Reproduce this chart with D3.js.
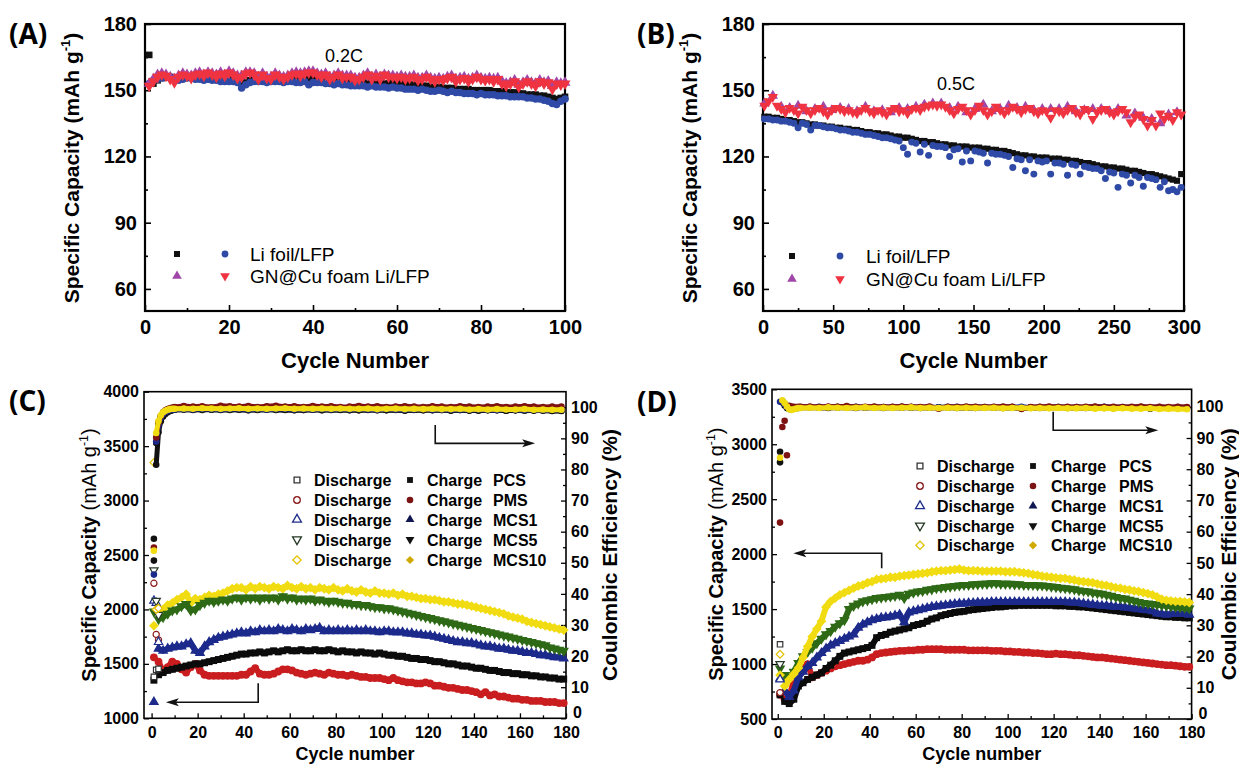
<!DOCTYPE html>
<html>
<head>
<meta charset="utf-8">
<script src="https://cdn.jsdelivr.net/npm/d3@7"></script>
<style>
body { margin: 0; background: #fff; }
svg { display: block; font-family: "Liberation Sans", Arial, sans-serif; }
.lab { font-family: "Open Sans", "Liberation Sans", sans-serif; font-weight: bold; }
</style>
</head>
<body>
<svg id="fig" width="1239" height="765"></svg>
<script>
// ---------- panel A : 0.2C, cycles 1..100 ----------
var aCycles = d3.range(1, 101);
var aLiCharge = [166, 153, 154.5, 155.5, 156, 156, 155.5, 155.5, 156, 156,
  156, 156, 155.5, 155.5, 155.5, 155.5, 155, 155, 155, 155,
  155, 154.5, 153, 153.5, 154.5, 155, 155, 155, 154.5, 155,
  155, 155, 154.5, 155, 155, 155, 155.5, 155.5, 155.5, 155.5,
  155.5, 155.5, 155, 155, 154.5, 154.5, 154, 154, 153.5, 153.5,
  153.5, 153.5, 153, 153, 153, 153, 153, 153, 153.5, 153.5,
  153, 153, 152.5, 152.5, 152, 152, 152, 151.5, 151, 151.5,
  151, 151, 151, 150.5, 150.5, 150.5, 150.5, 150, 150, 150,
  150, 150, 149.5, 149.5, 149.5, 149, 149, 149, 148.5, 148.5,
  148, 148, 148, 147.5, 147.5, 147, 146.5, 146, 146.5, 147];
var aLiDischarge = [153, 154.5, 155, 155.5, 156, 155.5, 155, 154.5, 155, 155.5,
  155.5, 155, 155, 154.5, 155, 154.5, 154.5, 154, 154, 154,
  154, 153.5, 151, 152.5, 153.5, 154, 154, 154, 153.5, 154,
  154, 154, 153.5, 154, 154, 153.5, 153.5, 154, 152.5, 153.5,
  153.5, 153.5, 153, 153, 152.5, 153, 152.5, 152.5, 152, 152,
  152, 152, 151.5, 152, 151.5, 151.5, 151.5, 151, 151.5, 151,
  151, 150.5, 150.5, 150.5, 150, 150.5, 150, 149.5, 149.5, 150,
  149.5, 149, 149.5, 149, 149, 148.5, 148.5, 148.5, 148, 148.5,
  148, 148, 148, 147.5, 147.5, 147.5, 147, 147, 147, 147,
  146.5, 146.5, 146, 146, 145.5, 145, 144, 143.5, 145, 146];
var aGnCharge = [153, 155, 157, 157.5, 157, 156, 155, 156.5, 157.5, 157,
  156.5, 157.5, 158, 157, 158, 157.5, 157, 158, 157, 158.5,
  157.5, 156.5, 156.5, 158, 158, 157.5, 156, 157.5, 156, 156,
  157.5, 156.5, 156, 156.5, 157.5, 158, 157.5, 158, 158.5, 158.5,
  157.5, 157, 157.5, 156, 156.5, 157.5, 156.5, 156.5, 156.5, 155.5,
  155.5, 156.5, 157.5, 156, 157, 156, 157, 156.5, 156.5, 156,
  156.5, 156, 156, 156.5, 155.5, 155.5, 156.5, 155.5, 155, 155.5,
  155, 156, 156.5, 155, 155.5, 156, 155, 155.5, 156.5, 155.5,
  155, 155.5, 155, 155.5, 154, 153, 153.5, 154.5, 152.5, 153.5,
  154.5, 153.5, 153, 154.5, 153.5, 154, 152, 153.5, 153, 153.5];
var aGnDischarge = [152, 154, 156, 157, 156.5, 155, 153.5, 156, 157, 156.5,
  155.5, 157, 157.5, 156.5, 158, 157, 156, 157.5, 156.5, 158,
  157, 155.5, 156, 157.5, 158, 157, 155, 157, 155.5, 155,
  157, 156, 155, 156, 157, 157.5, 156.5, 157.5, 158, 158,
  157, 156, 157, 155, 156, 157, 155.5, 156, 156, 154.5,
  155, 156, 157, 155, 156.5, 155, 157, 156, 156, 155.5,
  156, 155, 155.5, 156, 154.5, 155, 156, 155, 154, 155,
  154.5, 155.5, 156, 154, 155, 155.5, 154, 155, 156, 155,
  154.5, 155, 154, 155, 153, 152, 153, 154, 151.5, 153,
  154, 153, 152, 154, 153, 153.5, 150.5, 153, 152.5, 153];

// ---------- panel B : 0.5C, every 3rd cycle ----------
var bCycles = d3.range(1, 300, 3);
var bCyclesGnCh = d3.range(1, 300, 6);
var bLiCharge = [138, 138, 137.5, 137.5, 137, 136.5, 136.5, 136, 135.5, 135.5,
  135, 134.5, 134.5, 134, 134, 133.5, 133.5, 133, 133, 132.5,
  132.5, 132, 132, 131.5, 131, 131, 130.5, 130.5, 130, 130,
  129.5, 129, 129, 128.5, 128.5, 128, 127.5, 127, 127, 126.5,
  126.5, 126, 125.5, 125.5, 125, 125, 124.5, 124.5, 124.5, 124,
  124, 124, 123.5, 123.5, 123, 123, 122.5, 122.5, 122, 121.5,
  121, 120.5, 120.5, 120, 120, 119.5, 119.5, 119.5, 119, 119,
  119, 118.5, 118.5, 118, 118, 117.5, 117, 117, 116.5, 116,
  115.5, 115.5, 115, 115, 114.5, 114.5, 114, 113.5, 113.5, 113,
  112.5, 112, 112, 111.5, 111, 110.5, 110, 109.5, 109, 112];
var bLiDischarge = [137, 137, 136.5, 136.5, 136, 136, 135.5, 135, 133, 135,
  134.5, 132, 134, 134, 133.5, 133, 133, 132.5, 132, 132,
  131.5, 131, 131, 130.5, 130, 130, 129.5, 129, 128.5, 128.5,
  128, 127.5, 127, 124, 121, 126.5, 126, 122, 125.5, 120.5,
  125, 124.5, 124.5, 124, 120, 123, 123.5, 117.5, 122.5, 118,
  122.5, 122, 121.5, 117, 121.5, 121, 121, 120.5, 120, 115,
  119, 118.5, 113.5, 118.5, 112, 118, 117.5, 118, 112, 117,
  117, 116.5, 111.5, 116.5, 116, 112, 115.5, 115, 114.5, 114.5,
  113.5, 110, 113, 112.5, 106, 112, 111.5, 108, 111.5, 110.5,
  106.5, 110.5, 110, 109.5, 106, 108.5, 104.5, 105, 104, 106];
var bGnCharge = [144, 147.5, 142.5, 142, 143, 140.5, 141.5, 142.5, 141, 142,
  141.5, 140.5, 142.5, 140.5, 141, 140, 142, 141.5, 142.5, 143.5,
  144, 144, 142, 142.5, 140, 141.5, 143.5, 140.5, 141.5, 143,
  142, 142.5, 141, 141.5, 141.5, 141.5, 142.5, 140.5, 141, 141.5,
  141.5, 140.5, 141.5, 138.5, 139.5, 137.5, 137, 135, 139, 140];
var bGnDischarge = [143, 145, 147, 143, 141.5, 140, 142, 141, 139.5, 142.5,
  141, 139.5, 141, 142, 140.5, 139, 141, 142, 141.5, 140.5,
  141, 140, 139.5, 141, 142, 140.5, 139.5, 141, 140, 139,
  141, 142, 140.5, 141, 139.5, 141.5, 142, 141, 142.5, 143,
  143.5, 143, 143.5, 142.5, 141, 139.5, 141.5, 142.5, 141, 139,
  141, 143, 141, 139, 140.5, 142.5, 141, 139.5, 141, 142.5,
  141.5, 140, 141.5, 142, 140.5, 139.5, 141, 140.5, 137.5, 141,
  140.5, 139.5, 141, 142, 140, 139, 141.5, 141, 137, 140,
  141, 141.5, 140, 139, 140.5, 141.5, 140, 135.5, 138, 139,
  137, 134, 136.5, 134, 139.5, 137, 138.5, 136.5, 140, 139];

// ---------- panels C and D ----------
var materials = ["PCS", "PMS", "MCS1", "MCS5", "MCS10"];
var capCycles = d3.range(1, 180, 2);
var ceCycles = [1, 2, 3, 4, 5, 6, 7, 8, 9].concat(d3.range(10, 181, 4));

// panel C charge capacity (mAh/g)
var cPCS = [1350, 1400, 1420, 1440, 1450, 1460, 1470, 1480, 1490, 1500,
  1500, 1510, 1520, 1530, 1540, 1550, 1560, 1570, 1580, 1590,
  1590, 1600, 1600, 1610, 1600, 1610, 1620, 1610, 1620, 1630,
  1620, 1620, 1630, 1620, 1620, 1630, 1620, 1620, 1630, 1620,
  1610, 1620, 1610, 1610, 1600, 1610, 1600, 1600, 1590, 1600,
  1590, 1580, 1580, 1570, 1570, 1560, 1550, 1550, 1540, 1540,
  1530, 1520, 1520, 1510, 1500, 1500, 1490, 1480, 1480, 1470,
  1460, 1460, 1450, 1440, 1440, 1430, 1420, 1420, 1410, 1410,
  1400, 1400, 1390, 1390, 1380, 1380, 1370, 1370, 1360, 1360];
var cPMS = [1560, 1520, 1430, 1470, 1520, 1500, 1450, 1420, 1470, 1500,
  1440, 1400, 1390, 1390, 1390, 1390, 1390, 1390, 1390, 1400,
  1400, 1430, 1460, 1410, 1400, 1400, 1410, 1430, 1450, 1450,
  1440, 1420, 1410, 1400, 1410, 1420, 1410, 1400, 1420, 1410,
  1400, 1400, 1390, 1400, 1390, 1380, 1380, 1370, 1370, 1370,
  1360, 1350, 1370, 1350, 1340, 1330, 1330, 1320, 1320, 1330,
  1320, 1300, 1300, 1290, 1280, 1280, 1270, 1260, 1260, 1250,
  1240, 1220, 1240, 1210, 1220, 1200, 1200, 1190, 1180, 1180,
  1170, 1170, 1160, 1160, 1160, 1150, 1150, 1150, 1140, 1140];
var cMCS1 = [1150, 1640, 1620, 1640, 1650, 1660, 1660, 1680, 1690, 1620,
  1600, 1660, 1700, 1720, 1740, 1750, 1760, 1770, 1780, 1790,
  1780, 1800, 1790, 1810, 1800, 1810, 1800, 1820, 1810, 1800,
  1820, 1810, 1800, 1820, 1810, 1820, 1830, 1800, 1810, 1800,
  1810, 1800, 1810, 1800, 1810, 1800, 1810, 1800, 1800, 1790,
  1800, 1800, 1790, 1790, 1790, 1780, 1780, 1770, 1770, 1760,
  1760, 1750, 1740, 1730, 1720, 1710, 1700, 1700, 1690, 1690,
  1680, 1670, 1660, 1660, 1650, 1640, 1640, 1630, 1620, 1620,
  1610, 1600, 1600, 1590, 1580, 1580, 1570, 1560, 1560, 1550];
var cMCS5 = [1980, 1910, 1930, 1960, 1990, 2000, 2030, 2050, 1990, 2000,
  2040, 2060, 2080, 2070, 2080, 2090, 2080, 2100, 2110, 2090,
  2110, 2100, 2110, 2090, 2110, 2100, 2110, 2090, 2120, 2100,
  2110, 2090, 2100, 2090, 2100, 2080, 2090, 2080, 2070, 2080,
  2070, 2060, 2060, 2050, 2050, 2040, 2040, 2030, 2020, 2020,
  2010, 2010, 2000, 1990, 1980, 1970, 1960, 1950, 1940, 1930,
  1920, 1910, 1900, 1890, 1880, 1870, 1860, 1850, 1840, 1830,
  1820, 1810, 1800, 1790, 1780, 1770, 1760, 1750, 1740, 1730,
  1720, 1710, 1700, 1690, 1680, 1670, 1650, 1640, 1630, 1620];
var cMCS10 = [1850, 1990, 2000, 2040, 2060, 2090, 2110, 2140, 2060, 2100,
  2090, 2110, 2130, 2120, 2140, 2150, 2170, 2190, 2200, 2200,
  2180, 2210, 2190, 2210, 2200, 2190, 2210, 2200, 2190, 2220,
  2200, 2190, 2210, 2190, 2200, 2180, 2200, 2190, 2180, 2200,
  2180, 2170, 2190, 2170, 2160, 2180, 2160, 2150, 2170, 2150,
  2150, 2140, 2150, 2130, 2140, 2120, 2120, 2110, 2100, 2100,
  2090, 2090, 2080, 2070, 2070, 2060, 2050, 2050, 2040, 2030,
  2020, 2010, 2000, 1990, 1980, 1970, 1960, 1940, 1930, 1920,
  1910, 1890, 1880, 1870, 1860, 1850, 1840, 1830, 1820, 1810];
// panel C first-cycle discharge capacity
var cDisCycles = [1, 2, 3];
var cDisPCS = [1380, 1445, 1455];
var cDisPMS = [2240, 1770, 1720];
var cDisMCS1 = [2080, 2060, 1700];
var cDisMCS5 = [2360, 2080, 1950];
var cDisMCS10 = [3350, 2000, 2010];
// panel C coulombic efficiency (%)
var cCePCS = [57.7, 81.5, 92.0, 95.5, 97.0, 97.8, 98.4, 98.8, 99.0,
  99.2, 99.3, 99.1, 99.4, 99.2, 99.1, 99.3, 99.2, 99.0, 99.2,
  99.3, 99.1, 99.2, 99.0, 99.1, 99.3, 99.2, 99.1, 99.2, 99.0,
  99.1, 99.2, 99.0, 99.1, 99.2, 98.9, 99.1, 99.0, 99.2, 99.1,
  99.0, 99.1, 98.9, 99.1, 99.0, 99.1, 98.9, 99.0, 99.1, 98.9,
  99.0, 98.9, 98.8];
var cCePMS = [54.9, 90.3, 95.2, 97.2, 98.4, 99.0, 99.4, 99.7, 99.9,
  100.1, 100.4, 100.2, 100.3, 100.0, 100.5, 100.3, 100.2, 100.4, 100.1,
  100.3, 100.5, 100.2, 100.3, 100.1, 100.4, 100.2, 100.3, 100.1, 100.2,
  100.4, 100.2, 100.3, 100.1, 100.2, 100.3, 100.2, 100.1, 100.3, 100.2,
  100.1, 100.3, 100.2, 100.1, 100.2, 100.3, 100.1, 100.2, 100.3, 100.2,
  100.1, 100.2, 100.2];
var cCeMCS1 = [46.2, 89.0, 94.2, 96.6, 97.8, 98.5, 98.9, 99.1, 99.2,
  99.3, 99.4, 99.3, 99.5, 99.4, 99.3, 99.4, 99.5, 99.3, 99.4,
  99.3, 99.4, 99.5, 99.3, 99.4, 99.3, 99.4, 99.3, 99.4, 99.3,
  99.4, 99.3, 99.2, 99.4, 99.3, 99.2, 99.3, 99.4, 99.2, 99.3,
  99.2, 99.3, 99.2, 99.3, 99.2, 99.1, 99.3, 99.2, 99.1, 99.2,
  99.1, 99.2, 99.1];
var cCeMCS5 = [50.7, 88.5, 94.5, 96.8, 98.0, 98.6, 98.9, 99.1, 99.2,
  99.2, 99.3, 99.2, 99.1, 99.3, 99.2, 99.1, 99.3, 99.2, 99.1,
  99.2, 99.3, 99.1, 99.2, 99.1, 99.2, 99.0, 99.2, 99.1, 99.2,
  99.0, 99.1, 99.2, 99.0, 99.1, 99.0, 99.2, 99.1, 99.0, 99.1,
  98.9, 99.1, 99.0, 98.9, 99.1, 99.0, 98.9, 99.0, 98.9, 99.0,
  98.9, 98.8, 98.9];
var cCeMCS10 = [53.9, 91.7, 95.6, 97.4, 98.4, 98.9, 99.2, 99.4, 99.5,
  99.5, 99.6, 99.5, 99.7, 99.6, 99.5, 99.6, 99.7, 99.5, 99.6,
  99.5, 99.6, 99.7, 99.5, 99.6, 99.5, 99.6, 99.5, 99.6, 99.5,
  99.5, 99.6, 99.4, 99.5, 99.6, 99.4, 99.5, 99.4, 99.5, 99.4,
  99.4, 99.5, 99.3, 99.4, 99.3, 99.4, 99.3, 99.3, 99.4, 99.2,
  99.3, 99.2, 99.2];

// panel D charge capacity (mAh/g)
var dPCS = [720, 660, 640, 680, 800, 830, 860, 880, 900, 920,
  960, 990, 1030, 1070, 1100, 1110, 1120, 1130, 1140, 1150,
  1170, 1240, 1260, 1270, 1290, 1300, 1310, 1320, 1330, 1350,
  1360, 1370, 1390, 1410, 1420, 1440, 1450, 1460, 1470, 1475,
  1480, 1490, 1495, 1500, 1505, 1510, 1515, 1520, 1520, 1525,
  1530, 1530, 1535, 1535, 1535, 1535, 1535, 1535, 1535, 1535,
  1530, 1530, 1530, 1525, 1525, 1520, 1520, 1515, 1510, 1505,
  1500, 1495, 1490, 1485, 1480, 1475, 1470, 1465, 1460, 1455,
  1450, 1445, 1440, 1435, 1430, 1430, 1425, 1425, 1420, 1420];
var dPMS = [720, 680, 700, 850, 920, 960, 1000, 880, 900, 920,
  940, 960, 980, 990, 1000, 1010, 1020, 1030, 1030, 1040,
  1060, 1090, 1100, 1105, 1110, 1115, 1120, 1120, 1125, 1125,
  1130, 1130, 1135, 1135, 1135, 1135, 1130, 1130, 1130, 1130,
  1130, 1125, 1125, 1125, 1125, 1125, 1120, 1120, 1120, 1115,
  1115, 1110, 1110, 1105, 1105, 1100, 1100, 1095, 1090, 1090,
  1095, 1090, 1090, 1085, 1080, 1080, 1075, 1070, 1065, 1060,
  1060, 1055, 1050, 1045, 1040, 1035, 1030, 1025, 1020, 1015,
  1010, 1005, 1000, 995, 990, 990, 985, 980, 975, 975];
var dMCS1 = [870, 760, 700, 760, 880, 930, 980, 1010, 1060, 1100,
  1140, 1170, 1190, 1210, 1230, 1250, 1270, 1330, 1360, 1380,
  1400, 1410, 1420, 1425, 1430, 1440, 1450, 1380, 1470, 1480,
  1490, 1500, 1510, 1520, 1525, 1530, 1535, 1540, 1545, 1550,
  1550, 1555, 1555, 1560, 1560, 1560, 1565, 1565, 1565, 1565,
  1565, 1565, 1565, 1565, 1565, 1565, 1565, 1565, 1565, 1565,
  1565, 1565, 1565, 1560, 1560, 1555, 1550, 1545, 1540, 1535,
  1530, 1530, 1525, 1520, 1520, 1515, 1510, 1505, 1500, 1495,
  1490, 1480, 1460, 1455, 1450, 1455, 1460, 1455, 1455, 1450];
var dMCS5 = [960, 900, 880, 930, 1010, 1070, 1110, 1150, 1190, 1230,
  1270, 1300, 1340, 1370, 1400, 1500, 1530, 1550, 1570, 1580,
  1590, 1600, 1605, 1610, 1615, 1620, 1630, 1600, 1640, 1650,
  1660, 1665, 1675, 1680, 1690, 1695, 1700, 1705, 1710, 1715,
  1720, 1720, 1725, 1725, 1730, 1730, 1735, 1735, 1730, 1730,
  1730, 1725, 1725, 1720, 1720, 1720, 1715, 1715, 1710, 1705,
  1700, 1695, 1690, 1685, 1680, 1670, 1665, 1660, 1650, 1645,
  1640, 1630, 1620, 1610, 1600, 1595, 1585, 1575, 1565, 1555,
  1550, 1545, 1540, 1535, 1530, 1525, 1520, 1515, 1510, 1505];
var dMCS10 = [900, 800, 860, 910, 965, 1060, 1160, 1250, 1320, 1390,
  1520, 1570, 1600, 1630, 1650, 1670, 1690, 1710, 1720, 1740,
  1750, 1770, 1775, 1780, 1790, 1790, 1800, 1805, 1810, 1815,
  1820, 1825, 1830, 1840, 1845, 1850, 1850, 1855, 1860, 1865,
  1855, 1850, 1850, 1850, 1845, 1845, 1845, 1845, 1845, 1840,
  1840, 1840, 1835, 1830, 1825, 1815, 1810, 1800, 1795, 1790,
  1785, 1780, 1780, 1770, 1765, 1755, 1750, 1745, 1740, 1730,
  1720, 1715, 1705, 1695, 1690, 1680, 1675, 1665, 1660, 1650,
  1640, 1630, 1610, 1590, 1580, 1575, 1570, 1570, 1565, 1560];
// panel D first-cycle discharge capacity
var dDisCycles = [1];
var dDisPCS = [1180];
var dDisPMS = [740];
var dDisMCS1 = [860];
var dDisMCS5 = [1000];
var dDisMCS10 = [1090];
// panel D coulombic efficiency (%)
var dCePCS = [85.6, 101.4, 100.4, 99.6, 99.4, 99.5, 99.6, 99.7, 99.8,
  99.8, 99.9, 99.7, 99.8, 100.0, 99.8, 99.9, 99.7, 99.8, 99.9,
  99.8, 99.7, 99.9, 99.8, 99.7, 99.8, 99.9, 99.8, 99.7, 99.8,
  99.9, 99.7, 99.8, 99.9, 99.6, 99.8, 99.7, 99.8, 99.9, 99.7,
  99.8, 99.7, 99.8, 99.9, 99.7, 99.8, 99.7, 99.8, 99.4, 99.7,
  99.8, 99.7, 99.6];
var dCePMS = [62.9, 93.5, 95.5, 84.5, 100.3, 100.1, 100.0, 99.9, 100.0,
  100.0, 100.1, 99.9, 100.1, 100.0, 100.2, 99.9, 100.0, 100.1, 99.9,
  100.0, 100.1, 100.0, 99.9, 100.1, 99.4, 100.0, 99.9, 100.1, 100.0,
  99.9, 100.0, 100.1, 100.0, 99.3, 99.9, 100.0, 100.1, 99.9, 100.0,
  99.9, 100.0, 100.1, 99.9, 100.0, 99.9, 100.0, 100.1, 99.9, 100.0,
  99.9, 100.0, 99.9];
var dCeMCS1 = [101.6, 101.8, 100.8, 99.9, 99.3, 99.3, 99.5, 99.6, 99.7,
  99.9, 99.8, 100.0, 99.9, 99.8, 99.9, 100.0, 99.8, 99.9, 99.8,
  99.9, 100.0, 99.9, 99.8, 99.9, 99.8, 99.9, 100.0, 99.8, 99.9,
  99.8, 99.9, 99.8, 99.9, 100.0, 99.8, 99.9, 99.8, 99.9, 99.8,
  99.9, 99.8, 99.9, 100.0, 99.8, 99.9, 99.8, 99.9, 99.8, 99.9,
  99.7, 99.9, 99.8];
var dCeMCS5 = [82.2, 101.7, 100.9, 100.0, 99.3, 99.2, 99.4, 99.5, 99.6,
  99.7, 99.8, 99.7, 99.6, 99.8, 99.7, 99.6, 99.8, 99.7, 99.6,
  99.7, 99.8, 99.7, 99.6, 99.7, 99.8, 99.7, 99.6, 99.7, 99.6,
  99.7, 99.8, 99.6, 99.7, 99.6, 99.7, 99.6, 99.7, 99.8, 99.6,
  99.7, 99.6, 99.7, 99.6, 99.5, 99.7, 99.6, 99.7, 99.6, 99.5,
  99.6, 99.6, 99.5];
var dCeMCS10 = [83.7, 102.1, 101.2, 100.1, 99.2, 99.0, 99.2, 99.4, 99.6,
  99.6, 99.7, 99.6, 99.8, 99.7, 99.6, 99.7, 99.8, 99.6, 99.7,
  99.6, 99.7, 99.8, 99.6, 99.7, 99.6, 99.7, 99.6, 99.7, 99.6,
  99.6, 99.7, 99.5, 99.6, 99.7, 99.5, 99.6, 99.5, 99.6, 99.5,
  99.5, 99.6, 99.4, 99.5, 99.4, 99.5, 99.4, 99.4, 99.5, 99.3,
  99.4, 99.3, 99.2];

// ---------- drawing helpers ----------
var svg = d3.select("#fig");

var shapes = {
  square: { t: d3.symbolSquare, r: 0 },
  circle: { t: d3.symbolCircle, r: 0 },
  up: { t: d3.symbolTriangle, r: 0 },
  down: { t: d3.symbolTriangle, r: 180 },
  diamond: { t: d3.symbolSquare, r: 45 }
};

function points(g, xs, ys, x, y, shape, size, fill, stroke, sw) {
  var s = shapes[shape];
  g.append("g").selectAll("path")
    .data(d3.zip(xs, ys))
    .join("path")
    .attr("d", d3.symbol().type(s.t).size(size))
    .attr("transform", function (d) { return "translate(" + x(d[0]) + "," + y(d[1]) + ") rotate(" + s.r + ")"; })
    .attr("fill", fill)
    .attr("stroke", stroke || "none")
    .attr("stroke-width", sw || 0);
}

function band(g, xs, ys, x, y, color, w, from) {
  var pts = d3.zip(xs, ys).filter(function (d) { return d[0] >= from; });
  g.append("path").datum(pts)
    .attr("d", d3.line().x(function (d) { return x(d[0]); }).y(function (d) { return y(d[1]); }))
    .attr("fill", "none")
    .attr("stroke", color)
    .attr("stroke-width", w)
    .attr("stroke-linejoin", "round");
}

function marker(g, cx, cy, shape, size, fill, stroke, sw) {
  var s = shapes[shape];
  g.append("path")
    .attr("d", d3.symbol().type(s.t).size(size)())
    .attr("transform", "translate(" + cx + "," + cy + ") rotate(" + s.r + ")")
    .attr("fill", fill)
    .attr("stroke", stroke || "none")
    .attr("stroke-width", sw || 0);
}

// inward ticks, frame, labels
function axes(g, x, y, o) {
  var bottom = y.range()[0], top = y.range()[1];
  var left = x.range()[0], right = x.range()[1];
  var xb = g.append("g").attr("transform", "translate(0," + bottom + ")");
  xb.call(d3.axisBottom(x).tickValues(o.xMinor).tickSize(-o.minor).tickFormat(""));
  var xa = g.append("g").attr("transform", "translate(0," + bottom + ")");
  xa.call(d3.axisBottom(x).tickValues(o.xTicks).tickSize(-o.major).tickPadding(o.xPad).tickFormat(d3.format("d")));
  var yb = g.append("g").attr("transform", "translate(" + left + ",0)");
  yb.call(d3.axisLeft(y).tickValues(o.yMinor).tickSize(-o.minor).tickFormat(""));
  var ya = g.append("g").attr("transform", "translate(" + left + ",0)");
  ya.call(d3.axisLeft(y).tickValues(o.yTicks).tickSize(-o.major).tickPadding(o.yPad).tickFormat(d3.format("d")));
  var all = [xb, xa, yb, ya];
  if (o.y2) {
    var zb = g.append("g").attr("transform", "translate(" + right + ",0)");
    zb.call(d3.axisRight(o.y2).tickValues(o.y2Minor).tickSize(-o.minor).tickFormat(""));
    var za = g.append("g").attr("transform", "translate(" + right + ",0)");
    za.call(d3.axisRight(o.y2).tickValues(o.y2Ticks).tickSize(-o.major).tickPadding(o.yPad2).tickFormat(d3.format("d")));
    // lift the bottom "0" so it clears the x label below it
    za.selectAll("text").filter(function (d) { return d === 0; }).attr("dy", "-0.05em").attr("dx", "2");
    all.push(zb, za);
  }
  all.forEach(function (a) {
    a.select(".domain").remove();
    a.selectAll("line").attr("stroke", "#000").attr("stroke-width", o.tw);
    a.selectAll("text").attr("fill", "#000").attr("font-size", o.fs + "px")
      .attr("font-weight", "bold").attr("font-family", "'Liberation Sans', Arial, sans-serif");
  });
  g.append("rect").attr("x", left).attr("y", top)
    .attr("width", right - left).attr("height", bottom - top)
    .attr("fill", "none").attr("stroke", "#000").attr("stroke-width", o.fw);
}

function capTitle(g, bx, cy, fs, unitWeight) {
  var t = g.append("text")
    .attr("transform", "translate(" + bx + "," + cy + ") rotate(-90)")
    .attr("text-anchor", "middle").attr("font-size", fs + "px").attr("font-weight", "bold");
  t.append("tspan").text("Specific Capacity ");
  t.append("tspan").attr("font-weight", unitWeight).text("(mAh g");
  t.append("tspan").attr("font-weight", unitWeight).attr("font-size", (fs * 0.62) + "px").attr("dy", -fs * 0.42).text("-1");
  t.append("tspan").attr("font-weight", unitWeight).attr("dy", fs * 0.42).text(")");
}

function arrow(g, pts, color) {
  var head = pts[pts.length - 1], prev = pts[pts.length - 2];
  var dir = head[0] > prev[0] ? 1 : -1;
  g.append("path").datum(pts.slice(0, -1).concat([[head[0] - dir * 10, head[1]]]))
    .attr("d", d3.line())
    .attr("fill", "none").attr("stroke", color).attr("stroke-width", 1.6);
  g.append("path")
    .attr("d", "M" + head[0] + "," + head[1] + "L" + (head[0] - dir * 13) + "," + (head[1] - 4) +
      "L" + (head[0] - dir * 10) + "," + head[1] + "L" + (head[0] - dir * 13) + "," + (head[1] + 4) + "Z")
    .attr("fill", color);
}

// ---------- panels A and B ----------
function panelAB(p) {
  var g = svg.append("g");
  var x = d3.scaleLinear().domain(p.xDom).range(p.xRange);
  var y = d3.scaleLinear().domain([50, 180]).range([311, 24]);
  axes(g, x, y, {
    xTicks: p.xTicks, xMinor: p.xMinor,
    yTicks: [60, 90, 120, 150, 180], yMinor: [75, 105, 135, 165],
    major: 6, minor: 3, xPad: 9, yPad: 8, fs: 20, tw: 1.6, fw: 2.2
  });
  points(g, p.cycles, p.liCh, x, y, "square", p.ms, "#111");
  points(g, p.cycles, p.liDis, x, y, "circle", p.ms, "#2f4aa6");
  points(g, p.gnChCycles, p.gnCh, x, y, "up", p.ms + 8, "#a046a8");
  points(g, p.cycles, p.gnDis, x, y, "down", p.ms + 8, "#ef3340");

  g.append("text").attr("x", p.rateX).attr("y", p.rateY).attr("text-anchor", "middle")
    .attr("font-size", "18px").text(p.rate);

  var l = p.leg;
  marker(g, l.x1, l.y1, "square", 36, "#111");
  marker(g, l.x2, l.y1, "circle", 36, "#2f4aa6");
  marker(g, l.x1, l.y2, "up", 40, "#a046a8");
  marker(g, l.x2, l.y2, "down", 40, "#ef3340");
  g.append("text").attr("x", l.tx).attr("y", l.y1 + 7).attr("font-size", "19px").text("Li foil/LFP");
  g.append("text").attr("x", l.tx).attr("y", l.y2 + 7).attr("font-size", "19px").text("GN@Cu foam Li/LFP");

  capTitle(g, p.yTitleX, 168, 21, "bold");
  g.append("text").attr("x", (p.xRange[0] + p.xRange[1]) / 2).attr("y", 368)
    .attr("text-anchor", "middle").attr("font-size", "22px").attr("font-weight", "bold").text("Cycle Number");
  g.append("text").attr("class", "lab").attr("x", p.labX).attr("y", 44)
    .attr("font-size", "28px").text(p.label);
}

panelAB({
  label: "(A)", labX: 9, xDom: [0, 100], xRange: [145, 565],
  xTicks: [0, 20, 40, 60, 80, 100], xMinor: [10, 30, 50, 70, 90],
  cycles: aCycles, gnChCycles: aCycles,
  liCh: aLiCharge, liDis: aLiDischarge, gnCh: aGnCharge, gnDis: aGnDischarge,
  ms: 44, rate: "0.2C", rateX: 344, rateY: 62,
  leg: { x1: 177, x2: 225, y1: 254, y2: 276, tx: 250 },
  yTitleX: 79
});

panelAB({
  label: "(B)", labX: 637, xDom: [0, 300], xRange: [763, 1184],
  xTicks: [0, 50, 100, 150, 200, 250, 300], xMinor: [25, 75, 125, 175, 225, 275],
  cycles: bCycles, gnChCycles: bCyclesGnCh,
  liCh: bLiCharge, liDis: bLiDischarge, gnCh: bGnCharge, gnDis: bGnDischarge,
  ms: 38, rate: "0.5C", rateX: 956, rateY: 90,
  leg: { x1: 792, x2: 840, y1: 256, y2: 279, tx: 866 },
  yTitleX: 697
});

// ---------- panels C and D ----------
var capColor = ["#0b0b0b", "#c91d1f", "#1c2a8c", "#2e6a16", "#f1dc12"];
var ceColor = ["#111111", "#7e1212", "#1c2a8c", "#111111", "#f1dc12"];
var openShape = ["square", "circle", "up", "down", "diamond"];
var openColor = ["#333333", "#8b1c1c", "#1f2d8a", "#263826", "#e2c000"];
var fillShape = ["square", "circle", "up", "down", "diamond"];
var fillColor = ["#111111", "#7a1414", "#0f1650", "#111111", "#d0aa00"];

function panelCD(p) {
  var g = svg.append("g");
  var x = d3.scaleLinear().domain(p.xDom).range(p.xRange);
  var y = d3.scaleLinear().domain(p.yDom).range([p.bottom, p.top]);
  var y2 = d3.scaleLinear().domain(p.y2Dom).range([p.bottom, p.top]);
  axes(g, x, y, {
    xTicks: d3.range(0, 181, 20), xMinor: d3.range(10, 180, 20),
    yTicks: p.yTicks, yMinor: p.yMinor,
    y2: y2, y2Ticks: d3.range(0, 101, 10), y2Minor: d3.range(5, 105, 10),
    major: 5, minor: 3, xPad: 8, yPad: 5, yPad2: 5, fs: 16, tw: 1.3, fw: 1.6
  });

  // capacity bands (charge)
  p.order.forEach(function (i) {
    band(g, capCycles, p.cap[i], x, y, capColor[i], 6, 3);
    points(g, capCycles, p.cap[i], x, y, fillShape[i], 48, capColor[i]);
  });
  // discharge at first cycles
  p.dis.forEach(function (d, i) {
    points(g, p.disCycles, d, x, y, openShape[i], 30, "#fff", openColor[i], 1.2);
  });
  // coulombic efficiency
  [0, 3, 2, 1, 4].forEach(function (i) {
    band(g, ceCycles, p.ce[i], x, y2, ceColor[i], 5, p.ceFrom);
    points(g, ceCycles, p.ce[i], x, y2, "circle", 34, ceColor[i]);
  });

  // legend
  var L = p.leg;
  materials.forEach(function (m, i) {
    var ry = L.y[i];
    marker(g, L.xo, ry, openShape[i], 34, "#fff", openColor[i], 1.3);
    marker(g, L.xf, ry, fillShape[i], 34, fillColor[i]);
    g.append("text").attr("x", L.xd).attr("y", ry + 6).attr("font-size", "16px").attr("font-weight", "bold").text("Discharge");
    g.append("text").attr("x", L.xc).attr("y", ry + 6).attr("font-size", "16px").attr("font-weight", "bold").text("Charge");
    g.append("text").attr("x", L.xn).attr("y", ry + 6).attr("font-size", "16px").attr("font-weight", "bold").text(m);
  });

  // arrows
  var r = p.arrR, a = p.arrL;
  arrow(g, [[x(r[0]), y2(r[1])], [x(r[0]), y2(r[2])], [x(r[3]), y2(r[2])]], "#111");
  arrow(g, [[x(a[0]), y(a[1])], [x(a[0]), y(a[2])], [x(a[3]), y(a[2])]], "#111");

  capTitle(g, p.yTitleX, (p.top + p.bottom) / 2, 20, "normal");
  g.append("text")
    .attr("transform", "translate(" + p.y2TitleX + "," + ((p.top + p.bottom) / 2) + ") rotate(-90)")
    .attr("text-anchor", "middle").attr("font-size", "21px").attr("font-weight", "bold")
    .text("Coulombic Efficiency (%)");
  g.append("text").attr("x", (p.xRange[0] + p.xRange[1]) / 2).attr("y", 760)
    .attr("text-anchor", "middle").attr("font-size", "18px").attr("font-weight", "bold").text("Cycle number");
  g.append("text").attr("class", "lab").attr("x", p.labX).attr("y", p.labY)
    .attr("font-size", "28px").text(p.label);
}

panelCD({
  label: "(C)", labX: 9, labY: 411,
  xDom: [-3.3, 180], xRange: [144, 566], top: 391.7, bottom: 718.3,
  yDom: [1000, 4000], yTicks: d3.range(1000, 4001, 500), yMinor: d3.range(1250, 4000, 500),
  y2Dom: [0, 105],
  cap: [cPCS, cPMS, cMCS1, cMCS5, cMCS10], order: [1, 0, 2, 4, 3],
  disCycles: cDisCycles, dis: [cDisPCS, cDisPMS, cDisMCS1, cDisMCS5, cDisMCS10],
  ce: [cCePCS, cCePMS, cCeMCS1, cCeMCS5, cCeMCS10], ceFrom: 2,
  leg: { xo: 297, xd: 314, xf: 410, xc: 427, xn: 493, y: [480, 500, 519.5, 539.5, 560] },
  arrR: [123.2, 94.3, 88.4, 166.6], arrL: [46.3, 1322, 1148, 6.2],
  yTitleX: 96, y2TitleX: 617
});

panelCD({
  label: "(D)", labX: 637, labY: 412,
  xDom: [-2.5, 180], xRange: [772, 1191.6], top: 389.3, bottom: 719,
  yDom: [500, 3500], yTicks: d3.range(500, 3501, 500), yMinor: d3.range(750, 3500, 500),
  y2Dom: [0, 105.6],
  cap: [dPCS, dPMS, dMCS1, dMCS5, dMCS10], order: [1, 0, 2, 3, 4],
  disCycles: dDisCycles, dis: [dDisPCS, dDisPMS, dDisMCS1, dDisMCS5, dDisMCS10],
  ce: [dCePCS, dCePMS, dCeMCS1, dCeMCS5, dCeMCS10], ceFrom: 5,
  leg: { xo: 920, xd: 937, xf: 1033, xc: 1051, xn: 1119, y: [466, 486, 506, 525.7, 545.3] },
  arrR: [119.8, 98.4, 92.5, 165.5], arrL: [45.2, 1871, 2008, 6.8],
  yTitleX: 723, y2TitleX: 1236
});
</script>
</body>
</html>
